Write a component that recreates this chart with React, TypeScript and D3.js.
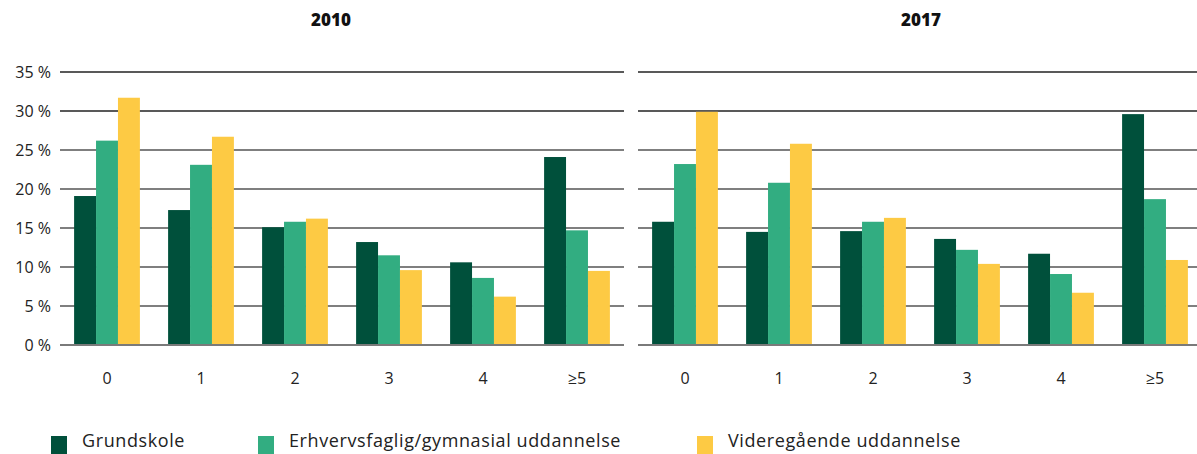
import React from 'react'
import * as d3 from 'd3'

const categories = ['0', '1', '2', '3', '4', '≥5']
const seriesNames = ['Grundskole', 'Erhvervsfaglig/gymnasial uddannelse', 'Videregående uddannelse']
const colors = ['#00503b', '#32ad81', '#fdca44']

const grundskole2010 = [19.1, 17.3, 15.1, 13.2, 10.6, 24.1]
const erhverv2010 = [26.2, 23.1, 15.8, 11.5, 8.6, 14.7]
const videre2010 = [31.7, 26.7, 16.2, 9.6, 6.2, 9.5]

const grundskole2017 = [15.8, 14.5, 14.6, 13.6, 11.7, 29.6]
const erhverv2017 = [23.2, 20.8, 15.8, 12.2, 9.1, 18.7]
const videre2017 = [29.9, 25.8, 16.3, 10.4, 6.7, 10.9]

const yTicks = [0, 5, 10, 15, 20, 25, 30, 35]

const panels = [
  { title: '2010', series: [grundskole2010, erhverv2010, videre2010], range: [60, 624], gridEnd: 624, titleX: 331 },
  { title: '2017', series: [grundskole2017, erhverv2017, videre2017], range: [638, 1202], gridEnd: 1197, titleX: 921 },
]

const font = '"Open Sans", Lato, sans-serif'

const App = () => {
  const width = 1197
  const height = 454
  const y = d3.scaleLinear().domain([0, 35]).range([345, 72])

  return (
    <svg width={width} height={height} style={{ position: 'absolute', left: 0, top: 0, background: '#fff' }}>
      {yTicks.map((t) => (
        <text key={t} x={51} y={y(t) + 6} textAnchor="end" fontFamily={font} fontSize={16} fill="#222">
          {t} %
        </text>
      ))}

      {panels.map((p) => {
        const x0 = d3.scaleBand().domain(categories).range(p.range).paddingInner(0.3).paddingOuter(0.15)
        const x1 = d3.scaleBand().domain(d3.range(3).map(String)).range([0, x0.bandwidth()])
        return (
          <g key={p.title}>
            <text x={p.titleX} y={26} textAnchor="middle" fontFamily={font} fontWeight="800" fontSize={17} fill="#111">
              {p.title}
            </text>
            {yTicks.map((t) => (
              <line
                key={t}
                x1={p.range[0]}
                x2={p.gridEnd}
                y1={y(t)}
                y2={y(t)}
                stroke={t === 0 ? '#7a7a7a' : t >= 30 ? '#222' : '#555'}
                strokeWidth={t === 0 ? 2 : 1.5}
              />
            ))}
            {categories.map((c, i) => (
              <g key={c} transform={`translate(${x0(c)},0)`}>
                {p.series.map((s, k) => (
                  <rect
                    key={k}
                    x={x1(String(k))}
                    y={y(s[i])}
                    width={x1.bandwidth()}
                    height={y(0) - y(s[i])}
                    fill={colors[k]}
                  />
                ))}
              </g>
            ))}
            <line x1={p.range[0]} x2={p.gridEnd} y1={y(0)} y2={y(0)} stroke="#7a7a7a" strokeWidth={2} />
            {categories.map((c) => (
              <text
                key={c}
                x={(x0(c) ?? 0) + x0.bandwidth() / 2}
                y={384}
                textAnchor="middle"
                fontFamily={font}
                fontSize={16}
                fill="#222"
              >
                {c}
              </text>
            ))}
          </g>
        )
      })}

      {seriesNames.map((name, k) => {
        const lx = [51, 258, 697][k]
        return (
          <g key={name}>
            <rect x={lx} y={436} width={16} height={18} fill={colors[k]} />
            <text x={lx + 31} y={447} fontFamily={font} fontSize={18} letterSpacing={0.6} fill="#222">
              {name}
            </text>
          </g>
        )
      })}
    </svg>
  )
}

export default App
